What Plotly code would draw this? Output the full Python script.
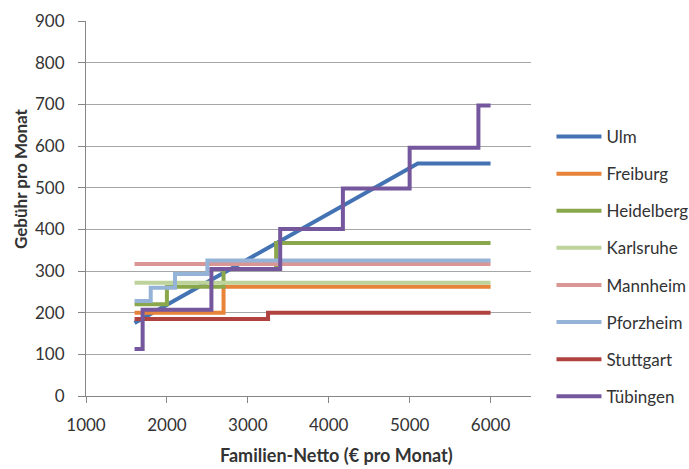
import plotly.graph_objects as go

# Monthly fee by family net income, per city
cities = ["Ulm", "Freiburg", "Heidelberg", "Karlsruhe", "Mannheim", "Pforzheim", "Stuttgart", "Tübingen"]

ulm_x = [1600, 5100, 6000]
ulm_y = [175, 558, 558]

freiburg_x = [1600, 2700, 6000]
freiburg_y = [200, 262, 262]

heidelberg_x = [1600, 2000, 2700, 3350, 6000]
heidelberg_y = [220, 262, 305, 367, 367]

karlsruhe_x = [1600, 6000]
karlsruhe_y = [272, 272]

mannheim_x = [1600, 6000]
mannheim_y = [317, 317]

pforzheim_x = [1600, 1800, 2100, 2500, 6000]
pforzheim_y = [228, 260, 293, 325, 325]

stuttgart_x = [1600, 3250, 6000]
stuttgart_y = [185, 200, 200]

tuebingen_x = [1600, 1700, 2550, 3400, 4175, 5000, 5850, 6000]
tuebingen_y = [113, 207, 305, 401, 498, 596, 697, 697]

x_ticks = [1000, 2000, 3000, 4000, 5000, 6000]
y_ticks = [0, 100, 200, 300, 400, 500, 600, 700, 800, 900]

series = [
    (ulm_x, ulm_y, "#4473B4", "linear"),
    (freiburg_x, freiburg_y, "#E8833A", "hv"),
    (heidelberg_x, heidelberg_y, "#8AA84B", "hv"),
    (karlsruhe_x, karlsruhe_y, "#BDD39B", "hv"),
    (mannheim_x, mannheim_y, "#D99694", "hv"),
    (pforzheim_x, pforzheim_y, "#95B3D7", "hv"),
    (stuttgart_x, stuttgart_y, "#B0433F", "hv"),
    (tuebingen_x, tuebingen_y, "#74579C", "hv"),
]

FONT = "Lato"
TXT = "#333333"
GRID = "#A6A6A6"

fig = go.Figure()
for name, (xs, ys, color, shape) in zip(cities, series):
    fig.add_trace(go.Scatter(
        x=xs, y=ys, name=name, mode="lines",
        line=dict(color=color, width=4, shape=shape),
        legendgroup=name,
    ))

fig.update_layout(
    width=689, height=469,
    margin=dict(l=86, r=158, t=21, b=73, autoexpand=False),
    paper_bgcolor="white", plot_bgcolor="white",
    font=dict(family=FONT, size=17, color=TXT),
    showlegend=True,
    legend=dict(
        x=1.046, xanchor="left", y=(396 - 266.5) / 375, yanchor="middle",
        font=dict(family=FONT, size=17, color=TXT),
        tracegroupgap=12, itemwidth=45, bgcolor="rgba(0,0,0,0)",
    ),
    xaxis=dict(
        range=[1000, 6500], tickvals=x_ticks, ticktext=[str(v) for v in x_ticks],
        showgrid=False, zeroline=False, showline=True, linecolor="#868686", linewidth=1,
        ticks="outside", ticklen=6, tickcolor="#868686", ticklabelstandoff=8,
        tickfont=dict(family=FONT, size=17, color=TXT),
    ),
    yaxis=dict(
        range=[0, 900], tickvals=y_ticks,
        showgrid=True, gridcolor=GRID, gridwidth=1, zeroline=False,
        showline=True, linecolor="#868686", linewidth=1,
        ticks="outside", ticklen=7, tickcolor="#868686", ticklabelstandoff=10,
        tickfont=dict(family=FONT, size=17, color=TXT),
    ),
    annotations=[
        dict(text="<b>Familien-Netto (€ pro Monat)</b>", xref="paper", yref="paper",
             x=(336 - 86) / 445, y=-(455 - 396) / 375, xanchor="center", yanchor="middle",
             showarrow=False, font=dict(family=FONT, size=18, color=TXT)),
        dict(text="<b>Gebühr pro Monat</b>", xref="paper", yref="paper",
             x=-(86 - 20) / 445, y=(396 - 179) / 375, xanchor="center", yanchor="middle",
             textangle=-90, showarrow=False, font=dict(family=FONT, size=17, color=TXT)),
    ],
)

fig.write_html("out.html")
